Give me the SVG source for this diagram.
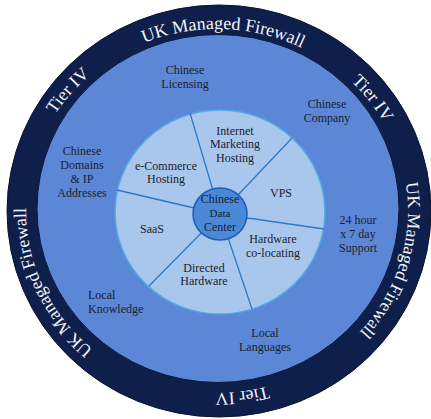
<svg xmlns="http://www.w3.org/2000/svg" width="431" height="419" viewBox="0 0 431 419">
<style>
.ring{font-family:"Liberation Serif","DejaVu Serif",serif;font-size:18px;fill:#f2f4fa}
.lbl{font-family:"Liberation Serif","DejaVu Serif",serif;font-size:12px;fill:#1b1d2b;text-anchor:middle}
.spoke{stroke:#2d79c9;stroke-width:1.3}
</style>
<defs>
<path id="pTop" d="M94.2,71.6 A191,182 0 0 1 349.7,80.1"/>
<path id="pUL" d="M32.5,163.9 A191,182 0 0 1 136.3,46.1"/>
<path id="pUR" d="M306.7,50.3 A191,182 0 0 1 403.8,173.2"/>
<path id="pRight" d="M384,122.8 A191,182 0 0 1 309.6,370.2"/>
<path id="pBottom" d="M319.6,364.5 A191,182 0 0 1 159.6,384.6"/>
<path id="pLeft" d="M148.5,380.9 A191,182 0 0 1 38.7,145.8"/>
</defs>
<rect width="431" height="419" fill="#ffffff"/>
<g id="outer-ring">
<ellipse cx="219" cy="211" rx="212" ry="206" fill="#0f1f4c" stroke="#091330" stroke-width="1"/>
<text class="ring"><textPath href="#pTop" startOffset="50%" text-anchor="middle">UK Managed Firewall</textPath></text>
<text class="ring"><textPath href="#pUL" startOffset="50%" text-anchor="middle">Tier IV</textPath></text>
<text class="ring"><textPath href="#pUR" startOffset="50%" text-anchor="middle">Tier IV</textPath></text>
<text class="ring"><textPath href="#pRight" startOffset="64">UK Managed</textPath></text>
<text class="ring"><textPath href="#pRight" startOffset="166">Firewall</textPath></text>
<text class="ring"><textPath href="#pBottom" startOffset="50%" text-anchor="middle">Tier IV</textPath></text>
<text class="ring"><textPath href="#pLeft" startOffset="64">UK</textPath></text>
<text class="ring"><textPath href="#pLeft" startOffset="94.5">Managed</textPath></text>
<text class="ring"><textPath href="#pLeft" startOffset="166">Firewall</textPath></text>
</g>
<g id="middle-ring">
<ellipse cx="218" cy="208.5" rx="181" ry="174" fill="#5b87d6" stroke="#0b1638" stroke-width="1"/>
<text class="lbl"><tspan x="185" y="74">Chinese</tspan><tspan x="185" y="88">Licensing</tspan></text>
<text class="lbl"><tspan x="327" y="108">Chinese</tspan><tspan x="327" y="122">Company</tspan></text>
<text class="lbl"><tspan x="82" y="155">Chinese</tspan><tspan x="82" y="169">Domains</tspan><tspan x="82" y="183">&amp; IP</tspan><tspan x="82" y="197">Addresses</tspan></text>
<text class="lbl"><tspan x="358" y="224">24 hour</tspan><tspan x="358" y="238">x 7 day</tspan><tspan x="358" y="252">Support</tspan></text>
<text class="lbl" style="text-anchor:start"><tspan x="88" y="299">Local</tspan><tspan x="88" y="313">Knowledge</tspan></text>
<text class="lbl"><tspan x="265" y="337">Local</tspan><tspan x="265" y="351">Languages</tspan></text>
</g>
<g id="inner-ring">
<ellipse cx="220" cy="212" rx="105" ry="102" fill="#a9c7ec" stroke="#52a9e4" stroke-width="1.5"/>
</g>
<g id="connectors">
<line class="spoke" x1="220" y1="214" x2="190" y2="113"/>
<line class="spoke" x1="220" y1="214" x2="292" y2="138"/>
<line class="spoke" x1="220" y1="214" x2="324" y2="229"/>
<line class="spoke" x1="220" y1="214" x2="252" y2="309"/>
<line class="spoke" x1="220" y1="214" x2="149" y2="286"/>
<line class="spoke" x1="220" y1="214" x2="117" y2="190"/>
</g>
<g id="segments">
<text class="lbl"><tspan x="235" y="135">Internet</tspan><tspan x="235" y="148">Marketing</tspan><tspan x="235" y="162">Hosting</tspan></text>
<text class="lbl"><tspan x="166" y="170">e-Commerce</tspan><tspan x="166" y="183">Hosting</tspan></text>
<text class="lbl"><tspan x="281" y="197">VPS</tspan></text>
<text class="lbl"><tspan x="152" y="233">SaaS</tspan></text>
<text class="lbl"><tspan x="273" y="243">Hardware</tspan><tspan x="273" y="257">co-locating</tspan></text>
<text class="lbl"><tspan x="204" y="272">Directed</tspan><tspan x="204" y="285">Hardware</tspan></text>
</g>
<g id="center">
<ellipse cx="220" cy="214" rx="27" ry="26" fill="#4a89d8" stroke="#1f5db4" stroke-width="1.5"/>
<text class="lbl"><tspan x="220" y="203">Chinese</tspan><tspan x="220" y="217" style="font-size:11px">Data</tspan><tspan x="220" y="231">Center</tspan></text>
</g>
</svg>
